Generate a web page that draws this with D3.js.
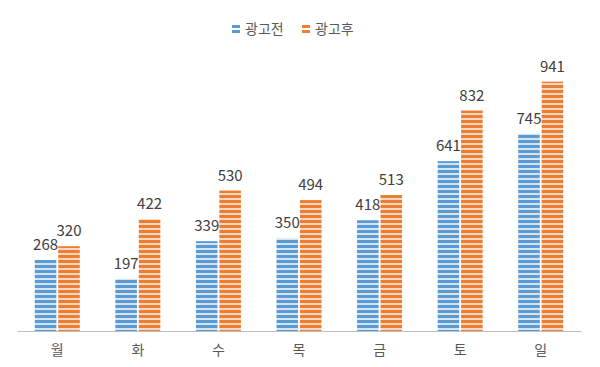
<!DOCTYPE html>
<html>
<head>
<meta charset="utf-8">
<script src="https://cdn.jsdelivr.net/npm/d3@7"></script>
<style>
  body { margin: 0; background: #fff; }
  text { font-family: "Noto Sans CJK KR", "Noto Sans", sans-serif; }
</style>
</head>
<body>
<div id="chart"></div>
<script>
// data
var days = ['월', '화', '수', '목', '금', '토', '일'];
var seriesNames = ['광고전', '광고후'];
var before = [268, 197, 339, 350, 418, 641, 745];
var after = [320, 422, 530, 494, 513, 832, 941];
var colors = ['#5b9bd5', '#ed7d31'];
var lightColors = ['#d6e5f4', '#f9d8c3'];

var width = 600, height = 367;
var margin = { top: 66, right: 19, bottom: 36, left: 17 };

var svg = d3.select("#chart")
  .append("svg")
  .attr("width", width)
  .attr("height", height);

// striped patterns
var defs = svg.append("defs");
colors.forEach(function (c, i) {
  var p = defs.append("pattern")
    .attr("id", "stripe" + i)
    .attr("patternUnits", "userSpaceOnUse")
    .attr("width", 8)
    .attr("height", 5);
  p.append("rect").attr("width", 8).attr("height", 5).attr("fill", lightColors[i]);
  p.append("rect").attr("width", 8).attr("height", 3).attr("fill", c);
});

var x = d3.scaleBand()
  .domain(days)
  .range([margin.left, width - margin.right])
  .paddingInner(0)
  .paddingOuter(0);

var innerW = 45;
var xs = d3.scaleBand()
  .domain(seriesNames)
  .range([0, innerW])
  .paddingInner(0.08);

var y = d3.scaleLinear()
  .domain([0, 1000])
  .range([height - margin.bottom, margin.top]);

var data = days.map(function (d, i) {
  return { day: d, values: [before[i], after[i]] };
});

var groups = svg.selectAll(".grp")
  .data(data)
  .enter().append("g")
  .attr("transform", function (d) {
    return "translate(" + (x(d.day) + (x.bandwidth() - innerW) / 2) + ",0)";
  });

groups.selectAll("rect")
  .data(function (d) { return d.values.map(function (v, i) { return { v: v, s: i }; }); })
  .enter().append("rect")
  .attr("x", function (d) { return xs(seriesNames[d.s]); })
  .attr("width", xs.bandwidth())
  .attr("y", function (d) { return y(d.v); })
  .attr("height", function (d) { return y(0) - y(d.v); })
  .attr("fill", function (d) { return "url(#stripe" + d.s + ")"; });

groups.selectAll(".lbl")
  .data(function (d) { return d.values.map(function (v, i) { return { v: v, s: i }; }); })
  .enter().append("text")
  .attr("x", function (d) { return xs(seriesNames[d.s]) + xs.bandwidth() / 2; })
  .attr("y", function (d) { return y(d.v) - 10; })
  .attr("text-anchor", "middle")
  .attr("font-size", 15)
  .attr("fill", "#404040")
  .text(function (d) { return d.v; });

// x axis
var xAxis = svg.append("g")
  .attr("transform", "translate(0," + y(0) + ")")
  .call(d3.axisBottom(x).tickSize(0).tickPadding(14));
xAxis.select(".domain").attr("stroke", "#bfbfbf").attr("stroke-width", 1);
xAxis.selectAll("text")
  .attr("font-size", 14)
  .attr("fill", "#595959")
  .style("font-family", '"Noto Sans CJK KR", sans-serif');

// legend
var legend = svg.append("g").attr("transform", "translate(232,29)");
var lx = [0, 70];
seriesNames.forEach(function (n, i) {
  var g = legend.append("g").attr("transform", "translate(" + lx[i] + ",0)");
  g.append("rect").attr("x", 0).attr("y", -4).attr("width", 8).attr("height", 3).attr("fill", colors[i]);
  g.append("rect").attr("x", 0).attr("y", 1).attr("width", 8).attr("height", 3).attr("fill", colors[i]);
  g.append("text")
    .attr("x", 13)
    .attr("y", 5)
    .attr("font-size", 14)
    .attr("fill", "#595959")
    .text(n);
});
</script>
</body>
</html>
